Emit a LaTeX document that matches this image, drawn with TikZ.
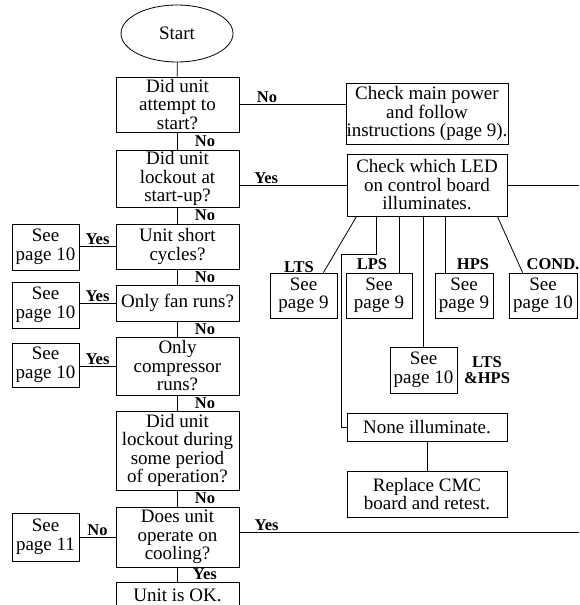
\documentclass[tikz,border=0pt]{standalone}
\usepackage{fontspec}
\setmainfont{Liberation Serif}
\usetikzlibrary{shapes.geometric}

\begin{document}
\begin{tikzpicture}[x=1pt,y=-1pt,line width=0.8pt,
    box/.style={draw, align=center, inner sep=0.5pt, font=\fontsize{19}{18.5}\selectfont},
    lbl/.style={inner sep=1pt, font=\fontsize{16.5}{16}\selectfont\bfseries}]
        \useasboundingbox (0,0) rectangle (579,605);
        \clip (0,0) rectangle (579,605);
        %
        \node [draw, ellipse, minimum width=112, minimum height=57, inner sep=0pt,
               font=\fontsize{19}{18.5}\selectfont] (start) at (177,33.5) {Start};
        %
        \node [box, minimum width=123, minimum height=55] (q1) at (177.5,104.5) {Did unit\\attempt to\\start?};
        \node [box, minimum width=123, minimum height=57] (q2) at (177.5,178.5) {Did unit\\lockout at\\start-up?};
        \node [box, minimum width=123, minimum height=45] (q3) at (177.5,246.5) {Unit short\\cycles?};
        \node [box, minimum width=123, minimum height=36] (q4) at (177.5,303) {Only fan runs?};
        \node [box, minimum width=123, minimum height=58] (q5) at (177.5,366) {Only\\compressor\\runs?};
        \node [box, minimum width=123, minimum height=79] (q6) at (177.5,450.5) {Did unit\\lockout during\\some period\\of operation?};
        \node [box, minimum width=123, minimum height=60] (q7) at (177.5,537) {Does unit\\operate on\\cooling?};
        \node [box, minimum width=123, minimum height=26] (ok) at (177.5,595) {Unit is OK.};
        %
        \node [box, minimum width=67, minimum height=46] (s1) at (45.5,247) {See\\page 10};
        \node [box, minimum width=67, minimum height=46] (s2) at (45.5,305) {See\\page 10};
        \node [box, minimum width=67, minimum height=44] (s3) at (45.5,365) {See\\page 10};
        \node [box, minimum width=67, minimum height=48] (s4) at (45.5,537) {See\\page 11};
        %
        \node [box, minimum width=160, minimum height=61] (power) at (427,113.5) {Check main power\\and follow\\instructions (page 9).};
        \node [box, minimum width=160, minimum height=62] (led) at (427,185) {Check which LED\\on control board\\illuminates.};
        \node [box, minimum width=67, minimum height=45] (lts) at (303.5,295.5) {See\\page 9};
        \node [box, minimum width=66, minimum height=45] (lps) at (379,295.5) {See\\page 9};
        \node [box, minimum width=58, minimum height=45] (hps) at (464,295.5) {See\\page 9};
        \node [box, minimum width=68, minimum height=45] (cond) at (543,295.5) {See\\page 10};
        \node [box, minimum width=67, minimum height=46] (both) at (423.5,370) {See\\page 10};
        \node [box, minimum width=160, minimum height=28] (none) at (427,427) {None illuminate.};
        \node [box, minimum width=160, minimum height=46] (cmc) at (427,494) {Replace CMC\\board and retest.};
        %
        \node [lbl] at (299,267) {LTS};
        \node [lbl] at (372,264) {LPS};
        \node [lbl] at (473,264) {HPS};
        \node [lbl] at (553,264) {COND.};
        \node [lbl, align=center] at (487,370) {LTS\\\&HPS};
        %
        \coordinate (ledout) at (579,185);
        \coordinate (coolout) at (579,532);
        %
        \draw (start) -- (q1);
        \draw (q1) -- node [lbl, right, xshift=16] {No} (q2);
        \draw (q2) -- node [lbl, right, xshift=16] {No} (q3);
        \draw (q3) -- node [lbl, right, xshift=16] {No} (q4);
        \draw (q4) -- node [lbl, right, xshift=16] {No} (q5);
        \draw (q5) -- node [lbl, right, xshift=16] {No} (q6);
        \draw (q6) -- node [lbl, right, xshift=16] {No} (q7);
        \draw (q7) -- node [lbl, right, xshift=14] {Yes} (ok);
        %
        \draw (q3.west) -- node [lbl, above] {Yes} (q3.west -| s1.east);
        \draw (q4.west) -- node [lbl, above] {Yes} (q4.west -| s2.east);
        \draw (q5.west) -- node [lbl, above] {Yes} (q5.west -| s3.east);
        \draw (q7.west) -- node [lbl, above] {No} (q7.west -| s4.east);
        %
        \draw (q1.east) -- node [lbl, above, pos=0.26] {No} (q1.east -| power.west);
        \draw (led.west -| q2.east) -- node [lbl, above, pos=0.25] {Yes} (led.west);
        \draw (led) -- (ledout);
        \draw (q7.east |- coolout) -- node [lbl, above, pos=0.08] {Yes} (coolout);
        %
        \draw ([xshift=10]led.south west) -- ([xshift=-14]lts.north east);
        \draw ([xshift=53]led.south west) -- ([xshift=53]led.south west |- lps.north);
        \draw ([xshift=30]led.south west) -- ++(0,38) -| ([xshift=-5]none.west) -- (none.west);
        \draw (both.north |- led.south) -- (both.north);
        \draw ([xshift=99]led.south west) -- ([xshift=99]led.south west |- hps.north);
        \draw ([xshift=-10]led.south east) -- ([xshift=14]cond.north west);
        \draw (none) -- (cmc);
      \end{tikzpicture}
\end{document}
